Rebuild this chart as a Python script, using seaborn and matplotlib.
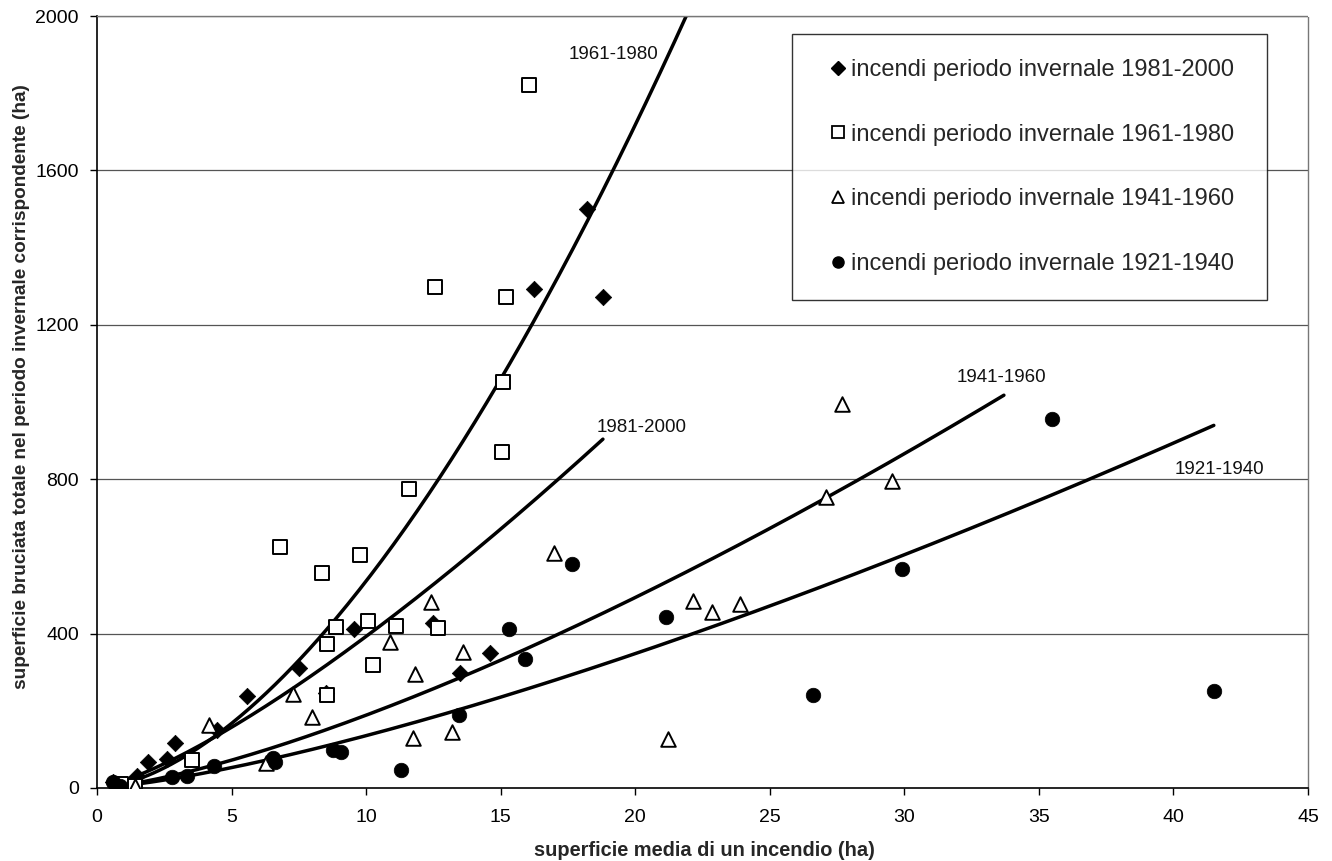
import numpy as np
import pandas as pd
import matplotlib
matplotlib.use("Agg")
import matplotlib.pyplot as plt
import seaborn as sns
from matplotlib.lines import Line2D

# ---- data ----
d81_x = [0.6, 0.9, 1.5, 1.9, 2.6, 2.9, 4.45, 5.57, 7.5, 8.5, 9.55, 12.5, 13.5, 14.6, 16.24, 18.2, 18.8]
d81_y = [15, 8, 30, 67, 75, 117, 150, 238, 311, 246, 412, 427, 298, 350, 1293, 1500, 1272]

s61_x = [0.9, 1.4, 3.53, 6.8, 8.36, 8.55, 8.55, 8.88, 9.77, 10.07, 10.26, 11.1, 11.6, 12.56, 12.67, 15.05, 15.1, 15.2, 16.05]
s61_y = [10, 5, 72, 624, 557, 373, 241, 417, 603, 433, 319, 420, 774, 1297, 415, 870, 1053, 1273, 1821]

t41_x = [1.4, 4.16, 6.28, 7.28, 7.98, 10.9, 11.75, 11.8, 12.4, 13.2, 13.6, 17.0, 21.2, 22.15, 22.85, 23.9, 27.1, 27.7, 29.55]
t41_y = [5, 163, 65, 243, 184, 378, 129, 295, 481, 146, 352, 609, 127, 484, 456, 477, 754, 995, 795]

c21_x = [0.6, 0.85, 2.8, 3.34, 4.35, 6.54, 6.6, 8.77, 9.07, 11.3, 13.45, 15.3, 15.9, 17.65, 21.15, 26.6, 29.9, 35.5, 41.5]
c21_y = [15, 5, 29, 31, 57, 78, 67, 98, 93, 47, 189, 412, 334, 580, 443, 241, 567, 956, 251]

series_labels = ["incendi periodo invernale 1981-2000",
                 "incendi periodo invernale 1961-1980",
                 "incendi periodo invernale 1941-1960",
                 "incendi periodo invernale 1921-1940"]

# power trend lines y = a * x^b
trend_names = ["1981-2000", "1961-1980", "1941-1960", "1921-1940"]
trend_a = [18.8, 11.2, 7.74, 5.92]
trend_b = [1.32, 1.68, 1.387, 1.36]
trend_xmin = [0.6, 0.6, 0.6, 0.6]
trend_xmax = [18.8, 22.0, 33.7, 41.5]
trend_label_xy = [(20.25, 933), (19.2, 1901), (33.6, 1064), (41.7, 826)]

x_ticks = [0, 5, 10, 15, 20, 25, 30, 35, 40, 45]
y_ticks = [0, 400, 800, 1200, 1600, 2000]

# ---- style ----
sns.set_theme(style="white")
plt.rcParams['font.family'] = ['Liberation Sans', 'DejaVu Sans']

W, H = 1332, 861
fig = plt.figure(figsize=(W / 100, H / 100), dpi=100)
L, R, T, B = 97, 1308, 16, 788
ax = fig.add_axes([L / W, (H - B) / H, (R - L) / W, (B - T) / H])

def ax_frac(px, py):
    return (px - L) / (R - L), (B - py) / (B - T)

# gridlines
for yv in y_ticks[1:]:
    ax.axhline(yv, color="#555555", lw=0.9, zorder=0)

# trend lines
for name, a, b, x0, x1 in zip(trend_names, trend_a, trend_b, trend_xmin, trend_xmax):
    xs = np.linspace(x0, x1, 200)
    df = pd.DataFrame({"x": xs, "y": a * xs ** b})
    sns.lineplot(data=df, x="x", y="y", ax=ax, color="black", lw=2.5, zorder=2)

for name, (tx, ty) in zip(trend_names, trend_label_xy):
    ax.text(tx, ty, name, ha="center", va="center", fontsize=13.5, color="#111111", zorder=5)

# scatter series
sns.scatterplot(x=d81_x, y=d81_y, ax=ax, marker="D", s=70, color="black",
                edgecolor="black", linewidth=0.5, zorder=3)
sns.scatterplot(x=s61_x, y=s61_y, ax=ax, marker="s", s=110, facecolor="white",
                edgecolor="black", linewidth=1.4, zorder=3)
sns.scatterplot(x=t41_x, y=t41_y, ax=ax, marker="^", s=110, facecolor="white",
                edgecolor="black", linewidth=1.4, zorder=3)
sns.scatterplot(x=c21_x, y=c21_y, ax=ax, marker="o", s=110, color="black",
                edgecolor="black", linewidth=0.5, zorder=3)

ax.set_xlim(0, 45)
ax.set_ylim(0, 2000)
ax.set_xticks(x_ticks)
ax.set_yticks(y_ticks)
ax.tick_params(axis="both", labelsize=14, colors="black", length=5, width=1.0,
               direction="out", bottom=True, left=True)
ax.tick_params(axis="x", pad=10)
ax.tick_params(axis="y", pad=8)
ax.set_xlabel("superficie media di un incendio (ha)", fontsize=14.4, fontweight="bold")
ax.set_ylabel("superficie bruciata totale nel periodo invernale corrispondente (ha)",
              fontsize=13.7, fontweight="bold")
ax.xaxis.set_label_coords(*ax_frac(704, 850))
ax.xaxis.label.set_va("center")
ax.yaxis.set_label_coords(*ax_frac(22, 387))
ax.yaxis.label.set_va("center")

for side in ["left", "bottom"]:
    ax.spines[side].set_color("black")
    ax.spines[side].set_linewidth(1.2)
for side in ["right", "top"]:
    ax.spines[side].set_color("#777777")
    ax.spines[side].set_linewidth(1.0)
    ax.spines[side].set_linestyle((0, (1, 1)))

# legend
handles = [
    Line2D([], [], marker="D", ls="none", color="black", markersize=7),
    Line2D([], [], marker="s", ls="none", markerfacecolor="white", markeredgecolor="black", markersize=8, markeredgewidth=1.3),
    Line2D([], [], marker="^", ls="none", markerfacecolor="white", markeredgecolor="black", markersize=8, markeredgewidth=1.3),
    Line2D([], [], marker="o", ls="none", color="black", markersize=8),
]
lx0, ly0 = ax_frac(792, 34)
lx1, ly1 = ax_frac(1267, 294)
leg = ax.legend(handles, series_labels, loc="upper left",
                bbox_to_anchor=(lx0, ly1, lx1 - lx0, ly0 - ly1), mode="expand",
                fontsize=17, frameon=True, fancybox=False, edgecolor="black",
                handlelength=1.81, handletextpad=-0.38, labelspacing=1.81,
                borderpad=1.05, borderaxespad=0)
leg.get_frame().set_linewidth(1.0)

fig.savefig("out.png", dpi=100, facecolor="white")
